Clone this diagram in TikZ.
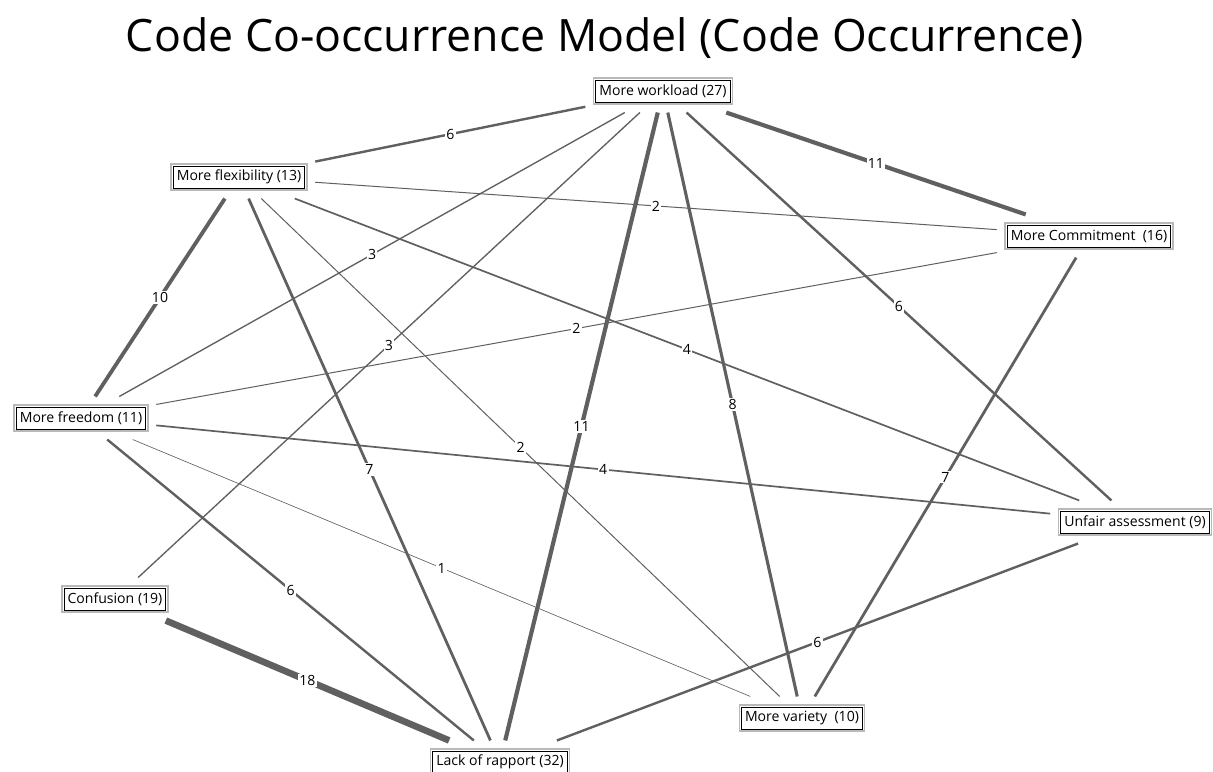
\documentclass[tikz,border=0pt]{standalone}
\usepackage{fontspec}
\setmainfont{Open Sans}
\usepackage{tikz}
\definecolor{linkgray}{RGB}{96,96,96}
\definecolor{framegray}{RGB}{185,185,185}

\begin{document}
\begin{tikzpicture}[
    x=0.02cm,y=-0.02cm,
    code/.style={draw=black, line width=0.5pt, fill=white, font=\fontsize{8}{9}\selectfont,
        inner xsep=2pt, inner ysep=0pt, minimum height=0.44cm, outer sep=6pt,
        preaction={draw=framegray, line width=3.4pt},
        preaction={draw=white, line width=1.6pt}},
    link/.style={draw=linkgray, line width={0.2pt*#1+0.17pt}},
    weight/.style={fill=white, inner sep=0.8pt, font=\fontsize{8}{9}\selectfont, pos=0.5}
    ]
    \useasboundingbox (0, 0) rectangle (1213, 771);
    \node[font=\fontsize{25.4}{30}\selectfont] (title) at (605, 38) {Code Co-occurrence Model (Code Occurrence)};
    \node[code] (workload) at (663, 91) {More workload (27)};
    \node[code] (flexibility) at (239, 177) {More flexibility (13)};
    \node[code] (commitment) at (1089, 236) {More Commitment~ (16)};
    \node[code] (freedom) at (81, 418) {More freedom (11)};
    \node[code] (unfair) at (1135, 522) {Unfair assessment (9)};
    \node[code] (confusion) at (115, 599) {Confusion (19)};
    \node[code] (variety) at (802, 718) {More variety~ (10)};
    \node[code] (rapport) at (500, 762) {Lack of rapport (32)};
    \draw[link=6] (workload) -- node[weight] {6} (flexibility);
    \draw[link=11] (workload) -- node[weight] {11} (commitment);
    \draw[link=2] (flexibility) -- node[weight] {2} (commitment);
    \draw[link=10] (flexibility) -- node[weight] {10} (freedom);
    \draw[link=3] (workload) -- node[weight] {3} (freedom);
    \draw[link=3] (workload) -- node[weight] {3} (confusion);
    \draw[link=11] (workload) -- node[weight] {11} (rapport);
    \draw[link=8] (workload) -- node[weight] {8} (variety);
    \draw[link=6] (workload) -- node[weight] {6} (unfair);
    \draw[link=7] (flexibility) -- node[weight] {7} (rapport);
    \draw[link=2] (flexibility) -- node[weight] {2} (variety);
    \draw[link=4] (flexibility) -- node[weight] {4} (unfair);
    \draw[link=2] (commitment) -- node[weight] {2} (freedom);
    \draw[link=7] (commitment) -- node[weight] {7} (variety);
    \draw[link=4] (freedom) -- node[weight] {4} (unfair);
    \draw[link=6] (freedom) -- node[weight] {6} (rapport);
    \draw[link=1] (freedom) -- node[weight] {1} (variety);
    \draw[link=18] (confusion) -- node[weight] {18} (rapport);
    \draw[link=6] (unfair) -- node[weight] {6} (rapport);
\end{tikzpicture}
\end{document}
